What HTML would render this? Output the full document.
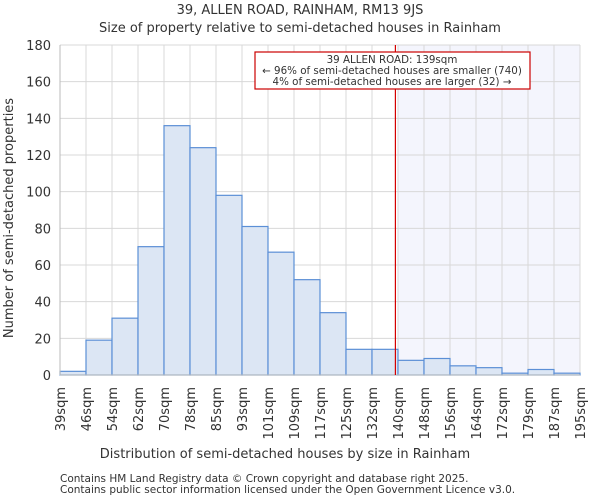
<!DOCTYPE html>
<html><head><meta charset="utf-8"><style>
body{margin:0;background:#fff;font-family:"DejaVu Sans","Liberation Sans",sans-serif;}
svg text{font-family:"DejaVu Sans","Liberation Sans",sans-serif;fill:#333;}
</style></head><body>
<svg id="chart" width="600" height="500" viewBox="0 0 600 500">
<text x="300" y="14" text-anchor="middle" font-size="13">39, ALLEN ROAD, RAINHAM, RM13 9JS</text>
<text x="300" y="32" text-anchor="middle" font-size="13">Size of property relative to semi-detached houses in Rainham</text>
<g id="plot"></g>
<text x="285" y="458" text-anchor="middle" font-size="13">Distribution of semi-detached houses by size in Rainham</text>
<text transform="translate(13,218) rotate(-90)" text-anchor="middle" font-size="13">Number of semi-detached properties</text>
<text x="60" y="482" font-size="10.5">Contains HM Land Registry data © Crown copyright and database right 2025.</text>
<text x="60" y="493" font-size="10.5">Contains public sector information licensed under the Open Government Licence v3.0.</text>
</svg>
<script>
const binLabels=["39sqm","46sqm","54sqm","62sqm","70sqm","78sqm","85sqm","93sqm","101sqm","109sqm","117sqm","125sqm","132sqm","140sqm","148sqm","156sqm","164sqm","172sqm","179sqm","187sqm","195sqm"];
const counts=[2,19,31,70,136,124,98,81,67,52,34,14,14,8,9,5,4,1,3,1];
const yTicks=[0,20,40,60,80,100,120,140,160,180];
const markerBin=12.9;
const NS="http://www.w3.org/2000/svg";
const g=document.getElementById('plot');
const L=60,R=580,T=45,B=375,yMax=180;
const bw=(R-L)/counts.length;
const xS=i=>L+i*bw;
const yS=v=>B-(v/yMax)*(B-T);
function mk(tag,attrs){const e=document.createElementNS(NS,tag);for(const k in attrs)e.setAttribute(k,attrs[k]);g.appendChild(e);return e;}
let sh=mk('rect',{x:xS(Math.ceil(markerBin)),y:T,width:R-xS(Math.ceil(markerBin)),height:B-T,fill:'#f4f5fd'});


yTicks.forEach(t=>{
 let l=mk('line',{x1:L,x2:R,y1:yS(t),y2:yS(t),stroke:'#d8d8d8','stroke-width':1});
 
 
 let tx=mk('text',{x:L-9,y:yS(t)+5,'text-anchor':'end','font-size':13});
 tx.textContent=t;
 
 
});
binLabels.forEach((lab,i)=>{
 let l=mk('line',{x1:xS(i),x2:xS(i),y1:T,y2:B,stroke:'#d8d8d8','stroke-width':1});
 
 
 let tx=mk('text',{transform:`translate(${xS(i)+5},${B+12}) rotate(-90)`,'text-anchor':'end','font-size':13});
 tx.textContent=lab;
 
 
});
counts.forEach((c,i)=>{
 let r=mk('rect',{x:xS(i),y:yS(c),width:bw,height:B-yS(c),fill:'#dce6f4',stroke:'#5b8fd6','stroke-width':1.2});
 
 
});
let ax=mk('line',{x1:L,x2:R,y1:B,y2:B,stroke:'#bbb','stroke-width':1});


let ay=mk('line',{x1:L,x2:L,y1:T,y2:B,stroke:'#bbb','stroke-width':1});


const mx=xS(markerBin);
let ml=mk('line',{x1:mx,x2:mx,y1:T,y2:B,stroke:'#d40000','stroke-width':1.2});


let box=mk('rect',{x:255,y:52,width:275,height:37,fill:'#fff',stroke:'#cc0000','stroke-width':1.2});


["39 ALLEN ROAD: 139sqm","← 96% of semi-detached houses are smaller (740)","4% of semi-detached houses are larger (32) →"].forEach((s,i)=>{
 let tx=mk('text',{x:392,y:63+i*11,'text-anchor':'middle','font-size':10.3});
 tx.textContent=s;
 
 
});
</script>
</body></html>
